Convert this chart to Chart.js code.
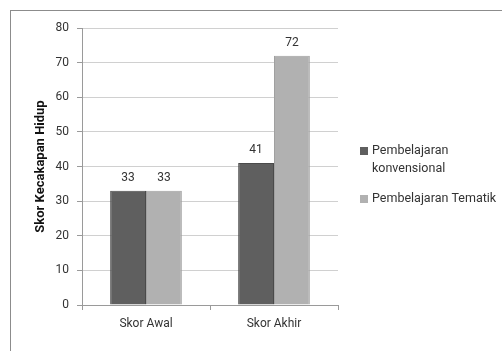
<!DOCTYPE html>
<html>
<head>
<meta charset="utf-8">
<script src="https://cdn.jsdelivr.net/npm/chart.js@4.4.0/dist/chart.umd.min.js"></script>
<style>
  html, body { margin: 0; padding: 0; background: #fff; }
  #wrap { width: 502px; height: 351px; position: relative; }
</style>
</head>
<body>
<div id="wrap"><canvas id="myChart"></canvas></div>
<script>
// data
var kategori = ['Skor Awal', 'Skor Akhir'];
var konvensional = [33, 41];
var tematik = [33, 72];
var namaSeri = [['Pembelajaran', 'konvensional'], ['Pembelajaran Tematik']];
var judulY = 'Skor Kecakapan Hidup';

var fontName = "'Liberation Sans Narrow', 'Roboto', sans-serif";

// frame round the whole chart (right and bottom edges fall outside the picture)
const bingkai = {
    id: 'bingkai',
    beforeDraw: function(chart) {
        const c = chart.ctx;
        c.save();
        c.fillStyle = '#fff';
        c.fillRect(0, 0, chart.width, chart.height);
        c.strokeStyle = '#8c8c8c';
        c.lineWidth = 1;
        c.strokeRect(10.5, 10.5, 500, 360);
        c.restore();
    }
};

// numbers above the bars
const angka = {
    id: 'angka',
    afterDatasetsDraw: function(chart) {
        const c = chart.ctx;
        c.save();
        c.font = '12px ' + fontName;
        c.fillStyle = '#333';
        c.textAlign = 'center';
        c.textBaseline = 'middle';
        chart.data.datasets.forEach(function(ds, i) {
            chart.getDatasetMeta(i).data.forEach(function(bar, j) {
                c.fillText(ds.data[j], bar.x, bar.y - 13);
            });
        });
        c.restore();
    }
};

// legend on the right, with wrapped text like the original
const legenda = {
    id: 'legenda',
    afterDraw: function(chart) {
        const c = chart.ctx;
        c.save();
        c.font = '12.5px ' + fontName;
        c.textBaseline = 'middle';
        var y = 151;
        chart.data.datasets.forEach(function(ds, i) {
            c.fillStyle = ds.backgroundColor;
            c.fillRect(360, y - 4, 8, 8);
            c.fillStyle = '#333';
            var baris = namaSeri[i];
            baris.forEach(function(t, k) {
                c.fillText(t, 372, y + k * 18);
            });
            y += baris.length * 18 + 12;
        });
        c.restore();
    }
};

const ctx = document.getElementById('myChart').getContext('2d');
const myChart = new Chart(ctx, {
    type: 'bar',
    data: {
        labels: kategori,
        datasets: [
            {
                label: 'Pembelajaran konvensional',
                data: konvensional,
                backgroundColor: '#5f5f5f',
                borderColor: '#4a4a4a',
                borderWidth: 1
            },
            {
                label: 'Pembelajaran Tematik',
                data: tematik,
                backgroundColor: '#b1b1b1',
                borderColor: '#a0a0a0',
                borderWidth: 1
            }
        ]
    },
    options: {
        responsive: true,
        maintainAspectRatio: false,
        animation: false,
        layout: {
            padding: { left: 29, right: 164, top: 28, bottom: 0 }
        },
        plugins: {
            legend: { display: false },
            tooltip: { enabled: false }
        },
        datasets: {
            bar: { categoryPercentage: 0.56, barPercentage: 1 }
        },
        scales: {
            x: {
                grid: {
                    offset: true,
                    drawOnChartArea: false,
                    tickLength: 5,
                    color: '#9a9a9a'
                },
                border: { color: '#9a9a9a' },
                ticks: {
                    color: '#333',
                    padding: 7,
                    font: { family: fontName, size: 12 }
                },
                afterFit: function(s) { s.height = 46; }
            },
            y: {
                min: 0,
                max: 80,
                ticks: {
                    stepSize: 10,
                    color: '#333',
                    padding: 8,
                    font: { family: fontName, size: 12 }
                },
                grid: {
                    color: '#d0d0d0',
                    tickLength: 5,
                    tickColor: '#9a9a9a'
                },
                border: { color: '#9a9a9a' },
                title: {
                    display: true,
                    text: judulY,
                    color: '#111',
                    font: { family: fontName, size: 13, weight: 'bold' }
                },
                afterFit: function(s) { s.width = 53; }
            }
        }
    },
    plugins: [bingkai, angka, legenda]
});
</script>
</body>
</html>
